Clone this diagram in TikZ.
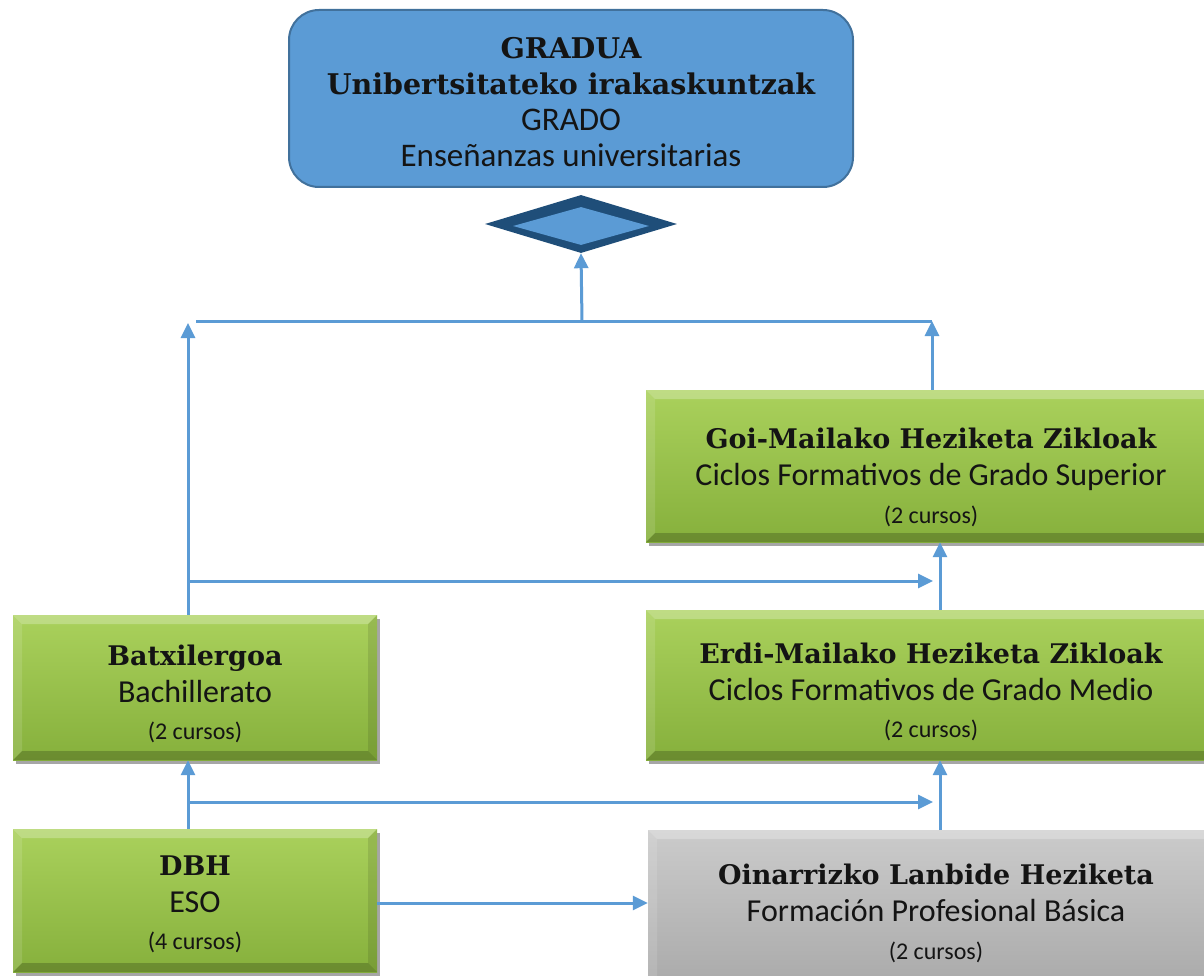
\documentclass[tikz,border=0pt]{standalone}
\usepackage{fontspec}
\setmainfont{Carlito}
\newfontfamily\slab{DejaVu Serif}
\usetikzlibrary{arrows.meta,shadows,shapes.geometric}
\definecolor{arrowblue}{HTML}{5B9BD5}
\definecolor{topfill}{HTML}{5B9BD5}
\definecolor{topdraw}{HTML}{41719C}
\definecolor{dkblue}{HTML}{1F4E79}
\definecolor{gtop}{HTML}{AAD15C}
\definecolor{gbot}{HTML}{86B03C}
\definecolor{ytop}{HTML}{CBCBCB}
\definecolor{ybot}{HTML}{A9A9A9}
\definecolor{txt}{HTML}{141414}
\newcommand\hfont{\fontsize{27}{37}\slab\bfseries\selectfont}
\newcommand\sfont{\fontsize{32}{37}\selectfont}
\newcommand\cfont{\fontsize{24}{37}\selectfont}
\newcommand\bevelpp{%
  \fill[white,opacity=.25] (path picture bounding box.north west) -- (path picture bounding box.north east)
    -- ([xshift=-9pt,yshift=-9pt]path picture bounding box.north east) -- ([xshift=9pt,yshift=-9pt]path picture bounding box.north west) -- cycle;
  \fill[white,opacity=.12] (path picture bounding box.north west) -- (path picture bounding box.south west)
    -- ([xshift=9pt,yshift=9pt]path picture bounding box.south west) -- ([xshift=9pt,yshift=-9pt]path picture bounding box.north west) -- cycle;
  \fill[black,opacity=.10] (path picture bounding box.north east) -- (path picture bounding box.south east)
    -- ([xshift=-9pt,yshift=9pt]path picture bounding box.south east) -- ([xshift=-9pt,yshift=-9pt]path picture bounding box.north east) -- cycle;
  \fill[black,opacity=.20] (path picture bounding box.south west) -- (path picture bounding box.south east)
    -- ([xshift=-9pt,yshift=9pt]path picture bounding box.south east) -- ([xshift=9pt,yshift=9pt]path picture bounding box.south west) -- cycle;
}
% #1 = extra height of first line (pushes the text block down by half of it)
\newcommand\boxtext[4]{\rule{0pt}{\dimexpr 21pt+#1\relax}{\hfont #2}\\{\sfont #3}\\[0.5pt]{\cfont #4}}
\tikzset{
  conn/.style={draw=arrowblue, line width=3pt},
  arr/.style={conn, -{Triangle[length=15pt,width=14pt]}},
  levelbox/.style={rectangle, inner sep=0pt, align=center, text=txt,
    font=\fontsize{32}{37}\selectfont,
    drop shadow={shadow xshift=3pt, shadow yshift=-4pt, opacity=.35, fill=black},
    path picture={\bevelpp}},
  greenbox/.style={levelbox, top color=gtop, bottom color=gbot},
  graybox/.style={levelbox, top color=ytop, bottom color=ybot},
  topbox/.style={rectangle, rounded corners=30pt, fill=topfill, draw=topdraw, line width=2pt,
    align=center, text=txt, font=\fontsize{33}{36}\selectfont},
}
\begin{document}
\begin{tikzpicture}[x=1pt,y=-1pt]
\useasboundingbox[fill=white] (0,0) rectangle (1204,976);

\node[topbox, minimum width=564pt, minimum height=177pt] (grado) at (571,98.5)
  {\rule{0pt}{29pt}{\fontsize{28.5}{36}\slab\bfseries\selectfont GRADUA}\\
   {\fontsize{28.5}{36}\slab\bfseries\selectfont Unibertsitateko irakaskuntzak}\\
   GRADO\\Enseñanzas universitarias};

\node[diamond, fill=dkblue, minimum width=192pt, minimum height=58pt, inner sep=0pt] (dia) at (581,224) {};
\node[diamond, fill=topfill, minimum width=136pt, minimum height=38pt, inner sep=0pt] (diain) at (581,226) {};

\node[greenbox, minimum width=570pt, minimum height=152pt] (goi) at (931,466)
  {\boxtext{22pt}{Goi-Mailako Heziketa Zikloak}{Ciclos Formativos de Grado Superior}{(2 cursos)}};
\node[greenbox, minimum width=570pt, minimum height=150pt] (erdi) at (931,685)
  {\boxtext{13pt}{Erdi-Mailako Heziketa Zikloak}{Ciclos Formativos de Grado Medio}{(2 cursos)}};
\node[greenbox, minimum width=364pt, minimum height=145pt] (batx) at (195,687.5)
  {\boxtext{12pt}{Batxilergoa}{Bachillerato}{(2 cursos)}};
\node[greenbox, minimum width=364pt, minimum height=143pt] (dbh) at (195,900.5)
  {\boxtext{6pt}{DBH}{ESO}{(4 cursos)}};
\node[graybox, minimum width=576pt, minimum height=160pt] (oina) at (936,910)
  {\boxtext{6pt}{Oinarrizko Lanbide Heziketa}{Formación Profesional Básica}{(2 cursos)}};

\coordinate (busL) at (196,321);
\coordinate (busR) at (932,321);
\coordinate (busM) at (582,321);
\coordinate (busLa) at (188,323);
\coordinate (j1) at (188,581);
\coordinate (t1) at (933,581);
\coordinate (j2) at (188,802);
\coordinate (t2) at (933,802);

\draw[conn] (busL) -- (busR);
\draw[arr] ([xshift=-7pt]batx.north) -- (busLa);
\draw[arr] (goi.north -| busR) -- (busR);
\draw[arr] (busM) -- (dia.south);
\draw[arr] (j1) -- (t1);
\draw[arr] ([xshift=9pt]erdi.north) -- ([xshift=9pt]goi.south);
\draw[arr] (j2) -- (t2);
\draw[arr] ([xshift=4pt]oina.north) -- ([xshift=9pt]erdi.south);
\draw[arr] ([xshift=-7pt]dbh.north) -- ([xshift=-7pt]batx.south);
\draw[arr] ([yshift=-2.5pt]dbh.east) -- ([yshift=-2.5pt]dbh.east -| oina.west);
\end{tikzpicture}
\end{document}
